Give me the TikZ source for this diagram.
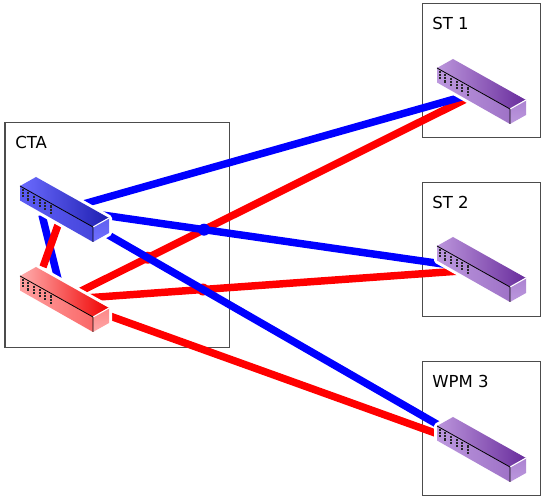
\documentclass[tikz,border=0pt]{standalone}
\usepackage{fontspec}
\setmainfont{DejaVu Sans}
\definecolor{bluetop}{HTML}{6C6CFF}
\definecolor{bluedark}{HTML}{1E1EB0}
\definecolor{bluefront}{HTML}{5C5CF4}
\definecolor{blueside}{HTML}{7070FF}
\definecolor{redtop}{HTML}{FFB0B0}
\definecolor{reddark}{HTML}{F00000}
\definecolor{redfront}{HTML}{FFA0A0}
\definecolor{redside}{HTML}{FFA8A8}
\definecolor{purpletop}{HTML}{BC96DC}
\definecolor{purpledark}{HTML}{682C9C}
\definecolor{purplefront}{HTML}{BC98DE}
\definecolor{purpleside}{HTML}{BC98DE}
\tikzset{
  box/.style={draw=black!70, line width=0.8pt, anchor=north west, inner sep=0pt},
  lbl/.style={anchor=west, inner sep=0pt, font=\fontsize{12.4}{14}\selectfont},
  bluelink/.style={draw=blue, line width=5.6pt},
  redlink/.style={draw=red, line width=5.6pt},
  pics/switch/.style={code={
    \draw[white, line width=4.5pt, line join=round, fill=white] (-44,-23.5) -- (-28,-32.5) -- (45,8.5) -- (45,23.5) -- (29,32.5) -- (-44,-9) -- cycle;
    \shade[left color=#1top, middle color=#1top!80!#1dark, right color=#1dark] (-44,-23.5) -- (-28,-32.5) -- (45,8.5) -- (29,17.5) -- cycle;
    \shade[left color=#1front, right color=#1dark!35!#1front] (-44,-23.5) -- (29,17.5) -- (29,32.5) -- (-44,-9) -- cycle;
    \shade[top color=#1side!80!#1dark, bottom color=#1side] (29,17.5) -- (45,8.5) -- (45,23.5) -- (29,32.5) -- cycle;
    \draw[white, line width=0.8pt] (29,17.5) -- (45,8.5);
    \draw[black, line width=0.6pt] (-44,-23.5) -- (29,17.5) -- (29,32.5);
    \foreach \i in {0,...,5}
      \draw[black!85, line width=1.4pt, dash pattern=on 1.6pt off 0.7pt] (-41.3+5.65*\i,-20.5+3.3*\i) -- (-41.3+5.65*\i,-12+3.3*\i);
  }}
}
\begin{document}
\begin{tikzpicture}[x=0.75pt, y=-0.75pt]
  \useasboundingbox (0,0) rectangle (544,499);
  % boxes
  \node[box, minimum width=168.4pt, minimum height=168.8pt] (cta) at (4.5,122) {};
  \node[box, minimum width=88.9pt, minimum height=100.5pt] (st1) at (421.5,3) {};
  \node[box, minimum width=88.9pt, minimum height=100.5pt] (st2) at (421.5,182) {};
  \node[box, minimum width=88.9pt, minimum height=100.5pt] (wpm) at (421.5,361) {};
  \node[lbl] (ctalabel) at (15,142) {CTA};
  \node[lbl] (st1label) at (432,23) {ST 1};
  \node[lbl] (st2label) at (432,202) {ST 2};
  \node[lbl] (wpmlabel) at (432,381) {WPM 3};
  % switch centres
  \coordinate (ctablue) at (64,209.5);
  \coordinate (ctared) at (64,299.5);
  \coordinate (sw1) at (481,91.5);
  \coordinate (sw2) at (481,269.5);
  \coordinate (sw3) at (481,449.5);
  \coordinate (bluea) at (42,215);
  \coordinate (blueb) at (58,279);
  \coordinate (reda) at (58,225);
  \coordinate (redb) at (43,267);
  % red links
  \draw[redlink] (ctared) -- (sw1);
  \draw[redlink] (ctared) -- (sw2);
  \draw[redlink] (ctared) -- (sw3);
  \fill[red] (intersection of ctared--sw1 and ctablue--sw3) circle (6);
  \fill[red] (intersection of ctared--sw2 and ctablue--sw3) circle (6);
  % blue links
  \draw[bluelink] (ctablue) -- (sw1);
  \draw[bluelink] (ctablue) -- (sw2);
  \draw[bluelink] (ctablue) -- (sw3);
  \fill[blue] (intersection of ctared--sw1 and ctablue--sw2) circle (6);
  % links between the two CTA switches
  \draw[bluelink] (bluea) -- (blueb);
  \draw[redlink] (reda) -- (redb);
  % switches
  \pic at (ctablue) {switch=blue};
  \pic at (ctared) {switch=red};
  \pic at (sw1) {switch=purple};
  \pic at (sw2) {switch=purple};
  \pic at (sw3) {switch=purple};
\end{tikzpicture}
\end{document}
